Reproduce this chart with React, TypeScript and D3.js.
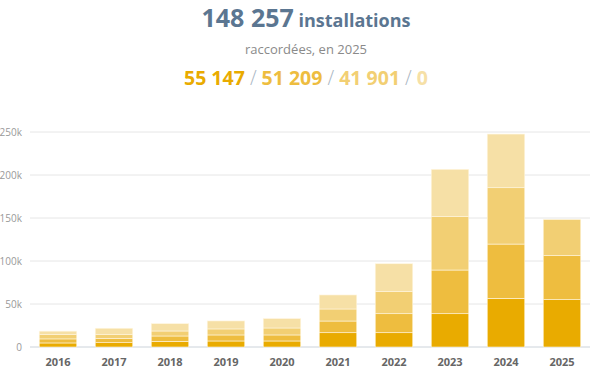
import React from "react";
import * as d3 from "d3";

const years = ["2016", "2017", "2018", "2019", "2020", "2021", "2022", "2023", "2024", "2025"];
const series1 = [4700, 5000, 6600, 7000, 7000, 16600, 16600, 38700, 56600, 55147];
const series2 = [4700, 5100, 6200, 7000, 7000, 13600, 22100, 50800, 63100, 51209];
const series3 = [5100, 4700, 5800, 7000, 8100, 14000, 26000, 62400, 65500, 41901];
const series4 = [3900, 7000, 8500, 9300, 10900, 16300, 32100, 54700, 62400, 0];
const colors = ["#E9AB00", "#EEBD3F", "#F2CF73", "#F6E0A6"];
const yTicks = [0, 50000, 100000, 150000, 200000, 250000];

const W = 600, H = 382;
const left = 30, right = 590, top = 132, bottom = 347;

export default function App() {
  const x = d3.scaleBand<string>().domain(years).range([left, right]).paddingInner(0.33).paddingOuter(0.165);
  const y = d3.scaleLinear().domain([0, 250000]).range([bottom, top]);
  const rows = years.map((yr, i) => ({ year: yr, s0: series1[i], s1: series2[i], s2: series3[i], s3: series4[i] }));
  const stack = d3.stack<any>().keys(["s0", "s1", "s2", "s3"]);
  const layers = stack(rows);
  const fmt = (v: number) => (v === 0 ? "0" : `${v / 1000}k`);
  const last = years.length - 1;
  const total = series1[last] + series2[last] + series3[last] + series4[last];
  const sp = (v: number) => d3.format(",")(v).replace(/,/g, " ");
  const font = "'Open Sans', sans-serif";
  const cx = 306;
  const vals = [series1[last], series2[last], series3[last], series4[last]];

  return (
    <svg width={W} height={H} style={{ position: "absolute", left: 0, top: 0, background: "#fff" }} fontFamily={font}>
      <text x={cx} y={27} textAnchor="middle" fontWeight={700} fill="#5B7691">
        <tspan fontSize={25}>{sp(total)}</tspan>
        <tspan fontSize={18}> installations</tspan>
      </text>
      <text x={cx} y={54} textAnchor="middle" fontSize={13} fill="#8A8A8A">raccordées, en 2025</text>
      <text x={cx} y={85} textAnchor="middle" fontSize={19.5} fontWeight={700}>
        {vals.map((v, i) => (
          <React.Fragment key={i}>
            {i > 0 && <tspan fill="#A9B6C3" fontWeight={300}> / </tspan>}
            <tspan fill={colors[i]}>{sp(v)}</tspan>
          </React.Fragment>
        ))}
      </text>
      {yTicks.map((t) => (
        <g key={t}>
          <line x1={left} x2={right} y1={y(t)} y2={y(t)} stroke={t === 0 ? "#CCD3DA" : "#E6E6E6"} strokeWidth={1} />
          <text x={22} y={y(t)} dy="0.35em" textAnchor="end" fontSize={10} fill="#999">{fmt(t)}</text>
        </g>
      ))}
      {layers.map((layer, li) => (
        <g key={li} fill={colors[li]}>
          {layer.map((d: any, i: number) => {
            const h = y(d[0]) - y(d[1]);
            if (h <= 0) return null;
            return (
              <rect key={i} x={x(years[i])!} y={y(d[1])} width={x.bandwidth()} height={h}
                stroke="#FFF6E0" strokeWidth={0.6} />
            );
          })}
        </g>
      ))}
      {years.map((yr) => (
        <text key={yr} x={x(yr)! + x.bandwidth() / 2} y={366} textAnchor="middle" fontSize={11} fontWeight={700} fill="#666">{yr}</text>
      ))}
    </svg>
  );
}
